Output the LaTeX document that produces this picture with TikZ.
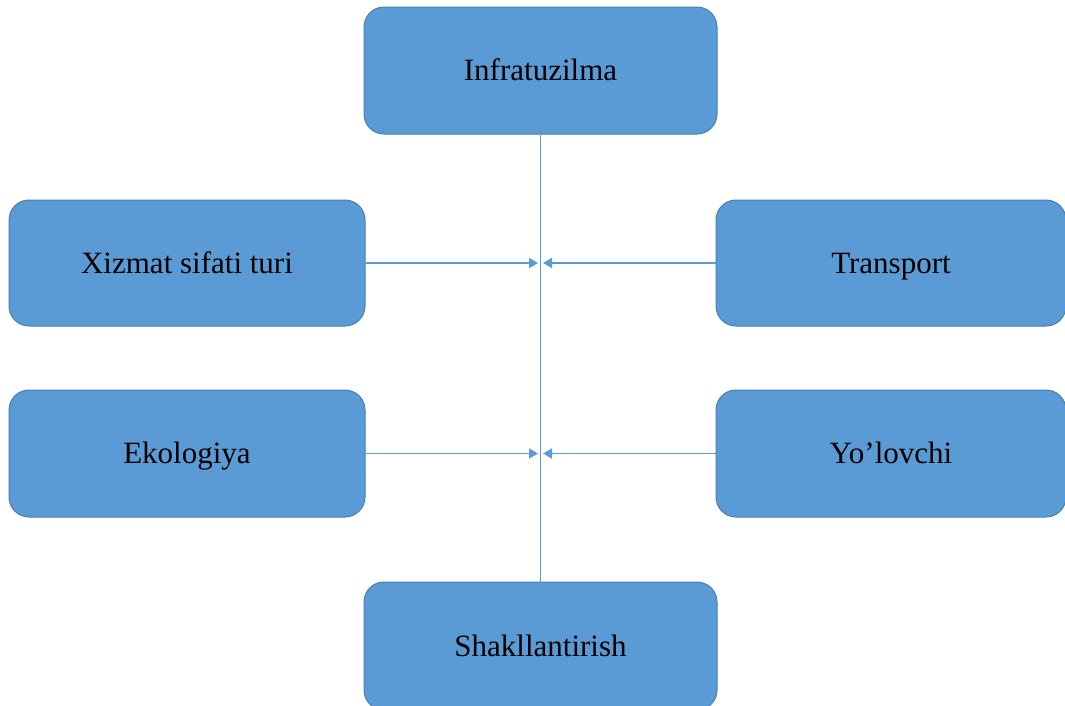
\documentclass[tikz,border=0pt]{standalone}
\usepackage{fontspec}
\setmainfont{Liberation Serif}
\usetikzlibrary{arrows.meta}
\definecolor{boxfill}{HTML}{5B9BD5}
\definecolor{boxline}{HTML}{4A7EB0}
\definecolor{conn}{HTML}{5B9BD5}
\tikzset{
  blk/.style={draw=boxline, line width=1pt, fill=boxfill, rounded corners=20pt,
    minimum width=#1, inner sep=0pt, text height=20.5pt, text depth=0pt,
    font=\fontsize{31}{36}\selectfont, text=black},
  blk/.default=353pt,
  link/.style={draw=conn, line width=1.8pt},
  arr/.style={link, -{Triangle[length=9pt,width=10pt]}}
}
\begin{document}
\begin{tikzpicture}[x=1pt,y=-1pt]
\useasboundingbox (0,0) rectangle (1065,705);
\node[blk=353pt, minimum height=127pt] (top) at (540.5,70.5) {Infratuzilma};
\node[blk=356pt, minimum height=126pt] (xiz) at (187,263) {Xizmat sifati turi};
\node[blk=350pt, minimum height=126pt] (tra) at (891,263) {Transport};
\node[blk=356pt, minimum height=127pt] (eko) at (187,453.5) {Ekologiya};
\node[blk=350pt, minimum height=127pt] (yol) at (891,453.5) {Yo’lovchi};
\node[blk=353pt, minimum height=128pt] (bot) at (540.5,646) {Shakllantirish};
\coordinate (a1l) at (538,263);
\coordinate (a1r) at (543,263);
\coordinate (a2l) at (538,453.5);
\coordinate (a2r) at (543,453.5);
\draw[link] (top.south) -- (bot.north);
\draw[arr] (xiz.east) -- (a1l);
\draw[arr] (tra.west) -- (a1r);
\draw[arr] (eko.east) -- (a2l);
\draw[arr] (yol.west) -- (a2r);
\end{tikzpicture}
\end{document}
